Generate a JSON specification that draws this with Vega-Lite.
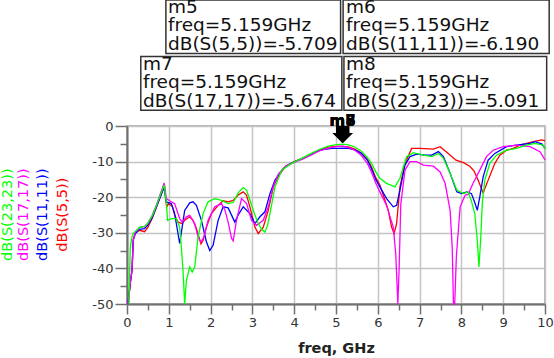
{
  "$schema": "https://vega.github.io/schema/vega-lite/v6.json",
  "width": 418,
  "height": 178,
  "autosize": {"type": "none"},
  "padding": {"left": 127, "top": 126, "right": 9, "bottom": 54},
  "background": "white",
  "config": {
    "font": "DejaVu Sans",
    "view": {"stroke": "#a0a0a0", "strokeWidth": 1.5},
    "axis": {
      "domainColor": "#707070",
      "domainWidth": 2,
      "tickColor": "#707070",
      "tickWidth": 1.5,
      "gridColor": "#c4c4c4",
      "gridWidth": 1.5,
      "labelColor": "#333333",
      "labelFont": "DejaVu Sans",
      "labelFontSize": 13
    }
  },
  "datasets": {
    "curves": [
      {"s":"dB(S(5,5))","f":0.03,"v":-50},{"s":"dB(S(5,5))","f":0.08,"v":-44},{"s":"dB(S(5,5))","f":0.12,"v":-40.5},{"s":"dB(S(5,5))","f":0.15,"v":-32},{"s":"dB(S(5,5))","f":0.2,"v":-30},{"s":"dB(S(5,5))","f":0.3,"v":-29.3},{"s":"dB(S(5,5))","f":0.42,"v":-29.7},{"s":"dB(S(5,5))","f":0.5,"v":-28.5},{"s":"dB(S(5,5))","f":0.6,"v":-26},{"s":"dB(S(5,5))","f":0.7,"v":-23},{"s":"dB(S(5,5))","f":0.8,"v":-19.8},{"s":"dB(S(5,5))","f":0.86,"v":-18},{"s":"dB(S(5,5))","f":0.9,"v":-17.2},{"s":"dB(S(5,5))","f":0.93,"v":-21},{"s":"dB(S(5,5))","f":0.95,"v":-22.7},{"s":"dB(S(5,5))","f":0.99,"v":-21.8},{"s":"dB(S(5,5))","f":1.09,"v":-22.7},{"s":"dB(S(5,5))","f":1.14,"v":-25},{"s":"dB(S(5,5))","f":1.22,"v":-27},{"s":"dB(S(5,5))","f":1.32,"v":-27.4},{"s":"dB(S(5,5))","f":1.38,"v":-26.5},{"s":"dB(S(5,5))","f":1.5,"v":-25.5},{"s":"dB(S(5,5))","f":1.58,"v":-26.5},{"s":"dB(S(5,5))","f":1.66,"v":-28.8},{"s":"dB(S(5,5))","f":1.77,"v":-33.1},{"s":"dB(S(5,5))","f":1.82,"v":-32.1},{"s":"dB(S(5,5))","f":1.9,"v":-28.4},{"s":"dB(S(5,5))","f":2.02,"v":-24.6},{"s":"dB(S(5,5))","f":2.18,"v":-22.3},{"s":"dB(S(5,5))","f":2.3,"v":-21},{"s":"dB(S(5,5))","f":2.42,"v":-21.3},{"s":"dB(S(5,5))","f":2.54,"v":-20.9},{"s":"dB(S(5,5))","f":2.66,"v":-19.4},{"s":"dB(S(5,5))","f":2.78,"v":-18.5},{"s":"dB(S(5,5))","f":2.86,"v":-19.5},{"s":"dB(S(5,5))","f":2.94,"v":-22.7},{"s":"dB(S(5,5))","f":3.06,"v":-28.4},{"s":"dB(S(5,5))","f":3.14,"v":-30.2},{"s":"dB(S(5,5))","f":3.26,"v":-28.4},{"s":"dB(S(5,5))","f":3.38,"v":-23.7},{"s":"dB(S(5,5))","f":3.5,"v":-17.1},{"s":"dB(S(5,5))","f":3.6,"v":-14.5},{"s":"dB(S(5,5))","f":3.7,"v":-12.8},{"s":"dB(S(5,5))","f":3.8,"v":-11.3},{"s":"dB(S(5,5))","f":4.0,"v":-10},{"s":"dB(S(5,5))","f":4.2,"v":-9.1},{"s":"dB(S(5,5))","f":4.4,"v":-7.9},{"s":"dB(S(5,5))","f":4.6,"v":-6.8},{"s":"dB(S(5,5))","f":4.8,"v":-6.0},{"s":"dB(S(5,5))","f":5.0,"v":-5.7},{"s":"dB(S(5,5))","f":5.159,"v":-5.709},{"s":"dB(S(5,5))","f":5.3,"v":-5.9},{"s":"dB(S(5,5))","f":5.45,"v":-6.5},{"s":"dB(S(5,5))","f":5.6,"v":-7.6},{"s":"dB(S(5,5))","f":5.75,"v":-9.3},{"s":"dB(S(5,5))","f":5.85,"v":-11.5},{"s":"dB(S(5,5))","f":5.95,"v":-14.5},{"s":"dB(S(5,5))","f":6.05,"v":-16.6},{"s":"dB(S(5,5))","f":6.17,"v":-20.8},{"s":"dB(S(5,5))","f":6.25,"v":-23.7},{"s":"dB(S(5,5))","f":6.33,"v":-28.4},{"s":"dB(S(5,5))","f":6.39,"v":-30.2},{"s":"dB(S(5,5))","f":6.45,"v":-27.4},{"s":"dB(S(5,5))","f":6.53,"v":-17.1},{"s":"dB(S(5,5))","f":6.65,"v":-10.5},{"s":"dB(S(5,5))","f":6.81,"v":-6.3},{"s":"dB(S(5,5))","f":7.01,"v":-6.3},{"s":"dB(S(5,5))","f":7.33,"v":-6.5},{"s":"dB(S(5,5))","f":7.49,"v":-5.8},{"s":"dB(S(5,5))","f":7.65,"v":-7.4},{"s":"dB(S(5,5))","f":7.87,"v":-9.6},{"s":"dB(S(5,5))","f":8.05,"v":-10.3},{"s":"dB(S(5,5))","f":8.2,"v":-11.3},{"s":"dB(S(5,5))","f":8.3,"v":-12.6},{"s":"dB(S(5,5))","f":8.4,"v":-15.2},{"s":"dB(S(5,5))","f":8.52,"v":-18.8},{"s":"dB(S(5,5))","f":8.64,"v":-15.2},{"s":"dB(S(5,5))","f":8.8,"v":-10.5},{"s":"dB(S(5,5))","f":8.92,"v":-8.2},{"s":"dB(S(5,5))","f":9.08,"v":-6.8},{"s":"dB(S(5,5))","f":9.24,"v":-6.3},{"s":"dB(S(5,5))","f":9.4,"v":-5.4},{"s":"dB(S(5,5))","f":9.56,"v":-4.9},{"s":"dB(S(5,5))","f":9.72,"v":-4.4},{"s":"dB(S(5,5))","f":9.92,"v":-3.9},{"s":"dB(S(5,5))","f":10,"v":-4.2},
      {"s":"dB(S(11,11))","f":0.02,"v":-50},{"s":"dB(S(11,11))","f":0.08,"v":-44},{"s":"dB(S(11,11))","f":0.12,"v":-40.5},{"s":"dB(S(11,11))","f":0.15,"v":-32},{"s":"dB(S(11,11))","f":0.2,"v":-30.2},{"s":"dB(S(11,11))","f":0.3,"v":-29},{"s":"dB(S(11,11))","f":0.42,"v":-28.8},{"s":"dB(S(11,11))","f":0.5,"v":-27.8},{"s":"dB(S(11,11))","f":0.6,"v":-25.8},{"s":"dB(S(11,11))","f":0.7,"v":-22.8},{"s":"dB(S(11,11))","f":0.8,"v":-19.8},{"s":"dB(S(11,11))","f":0.86,"v":-18},{"s":"dB(S(11,11))","f":0.89,"v":-17.5},{"s":"dB(S(11,11))","f":0.94,"v":-21.3},{"s":"dB(S(11,11))","f":1.06,"v":-21.8},{"s":"dB(S(11,11))","f":1.14,"v":-24.6},{"s":"dB(S(11,11))","f":1.22,"v":-30.2},{"s":"dB(S(11,11))","f":1.26,"v":-33},{"s":"dB(S(11,11))","f":1.32,"v":-28.4},{"s":"dB(S(11,11))","f":1.38,"v":-23.7},{"s":"dB(S(11,11))","f":1.5,"v":-21.6},{"s":"dB(S(11,11))","f":1.58,"v":-21.3},{"s":"dB(S(11,11))","f":1.66,"v":-22.3},{"s":"dB(S(11,11))","f":1.78,"v":-26.5},{"s":"dB(S(11,11))","f":1.9,"v":-32.5},{"s":"dB(S(11,11))","f":1.98,"v":-35},{"s":"dB(S(11,11))","f":2.06,"v":-33.5},{"s":"dB(S(11,11))","f":2.18,"v":-26.5},{"s":"dB(S(11,11))","f":2.3,"v":-22.7},{"s":"dB(S(11,11))","f":2.42,"v":-23},{"s":"dB(S(11,11))","f":2.58,"v":-27},{"s":"dB(S(11,11))","f":2.66,"v":-25},{"s":"dB(S(11,11))","f":2.78,"v":-22.7},{"s":"dB(S(11,11))","f":2.94,"v":-24.6},{"s":"dB(S(11,11))","f":3.06,"v":-27.4},{"s":"dB(S(11,11))","f":3.18,"v":-25.5},{"s":"dB(S(11,11))","f":3.3,"v":-24.1},{"s":"dB(S(11,11))","f":3.42,"v":-19},{"s":"dB(S(11,11))","f":3.54,"v":-15.2},{"s":"dB(S(11,11))","f":3.74,"v":-11.9},{"s":"dB(S(11,11))","f":3.9,"v":-10.6},{"s":"dB(S(11,11))","f":4.1,"v":-9.6},{"s":"dB(S(11,11))","f":4.3,"v":-8.6},{"s":"dB(S(11,11))","f":4.5,"v":-7.3},{"s":"dB(S(11,11))","f":4.7,"v":-6.6},{"s":"dB(S(11,11))","f":4.9,"v":-6.3},{"s":"dB(S(11,11))","f":5.05,"v":-6.3},{"s":"dB(S(11,11))","f":5.159,"v":-6.19},{"s":"dB(S(11,11))","f":5.3,"v":-6.3},{"s":"dB(S(11,11))","f":5.45,"v":-6.7},{"s":"dB(S(11,11))","f":5.6,"v":-7.6},{"s":"dB(S(11,11))","f":5.75,"v":-9.6},{"s":"dB(S(11,11))","f":5.85,"v":-12},{"s":"dB(S(11,11))","f":5.95,"v":-15},{"s":"dB(S(11,11))","f":6.05,"v":-17.1},{"s":"dB(S(11,11))","f":6.21,"v":-20.4},{"s":"dB(S(11,11))","f":6.37,"v":-22.7},{"s":"dB(S(11,11))","f":6.45,"v":-22.3},{"s":"dB(S(11,11))","f":6.53,"v":-18},{"s":"dB(S(11,11))","f":6.65,"v":-11},{"s":"dB(S(11,11))","f":6.77,"v":-8.6},{"s":"dB(S(11,11))","f":6.93,"v":-7.9},{"s":"dB(S(11,11))","f":7.13,"v":-8.2},{"s":"dB(S(11,11))","f":7.29,"v":-8.2},{"s":"dB(S(11,11))","f":7.45,"v":-7.2},{"s":"dB(S(11,11))","f":7.57,"v":-8.6},{"s":"dB(S(11,11))","f":7.73,"v":-13.3},{"s":"dB(S(11,11))","f":7.89,"v":-18.5},{"s":"dB(S(11,11))","f":8.0,"v":-19},{"s":"dB(S(11,11))","f":8.13,"v":-18.5},{"s":"dB(S(11,11))","f":8.24,"v":-19},{"s":"dB(S(11,11))","f":8.32,"v":-21.5},{"s":"dB(S(11,11))","f":8.38,"v":-23.7},{"s":"dB(S(11,11))","f":8.44,"v":-19.9},{"s":"dB(S(11,11))","f":8.52,"v":-14.3},{"s":"dB(S(11,11))","f":8.64,"v":-9.6},{"s":"dB(S(11,11))","f":8.8,"v":-7.7},{"s":"dB(S(11,11))","f":9.08,"v":-5.8},{"s":"dB(S(11,11))","f":9.32,"v":-5.4},{"s":"dB(S(11,11))","f":9.64,"v":-4.9},{"s":"dB(S(11,11))","f":9.76,"v":-4.4},{"s":"dB(S(11,11))","f":9.92,"v":-5.0},{"s":"dB(S(11,11))","f":10,"v":-6.3},
      {"s":"dB(S(17,17))","f":0.02,"v":-50},{"s":"dB(S(17,17))","f":0.08,"v":-44},{"s":"dB(S(17,17))","f":0.12,"v":-40.5},{"s":"dB(S(17,17))","f":0.15,"v":-32},{"s":"dB(S(17,17))","f":0.2,"v":-29.8},{"s":"dB(S(17,17))","f":0.3,"v":-28.5},{"s":"dB(S(17,17))","f":0.42,"v":-28.3},{"s":"dB(S(17,17))","f":0.5,"v":-27.3},{"s":"dB(S(17,17))","f":0.6,"v":-25.2},{"s":"dB(S(17,17))","f":0.7,"v":-22.3},{"s":"dB(S(17,17))","f":0.8,"v":-19},{"s":"dB(S(17,17))","f":0.86,"v":-17},{"s":"dB(S(17,17))","f":0.89,"v":-16},{"s":"dB(S(17,17))","f":0.94,"v":-20.4},{"s":"dB(S(17,17))","f":1.02,"v":-21},{"s":"dB(S(17,17))","f":1.14,"v":-21.8},{"s":"dB(S(17,17))","f":1.26,"v":-26},{"s":"dB(S(17,17))","f":1.32,"v":-27},{"s":"dB(S(17,17))","f":1.42,"v":-25.5},{"s":"dB(S(17,17))","f":1.5,"v":-25.1},{"s":"dB(S(17,17))","f":1.62,"v":-27.4},{"s":"dB(S(17,17))","f":1.7,"v":-31.2},{"s":"dB(S(17,17))","f":1.77,"v":-32.6},{"s":"dB(S(17,17))","f":1.84,"v":-31.2},{"s":"dB(S(17,17))","f":1.94,"v":-26.5},{"s":"dB(S(17,17))","f":2.1,"v":-22.7},{"s":"dB(S(17,17))","f":2.26,"v":-21.8},{"s":"dB(S(17,17))","f":2.34,"v":-23.5},{"s":"dB(S(17,17))","f":2.42,"v":-27},{"s":"dB(S(17,17))","f":2.5,"v":-31.5},{"s":"dB(S(17,17))","f":2.54,"v":-32.3},{"s":"dB(S(17,17))","f":2.62,"v":-26.5},{"s":"dB(S(17,17))","f":2.74,"v":-20.4},{"s":"dB(S(17,17))","f":2.86,"v":-21.8},{"s":"dB(S(17,17))","f":2.98,"v":-26.5},{"s":"dB(S(17,17))","f":3.1,"v":-27.9},{"s":"dB(S(17,17))","f":3.26,"v":-26.5},{"s":"dB(S(17,17))","f":3.38,"v":-22.7},{"s":"dB(S(17,17))","f":3.5,"v":-17},{"s":"dB(S(17,17))","f":3.62,"v":-13.5},{"s":"dB(S(17,17))","f":3.8,"v":-11.2},{"s":"dB(S(17,17))","f":4.0,"v":-10.2},{"s":"dB(S(17,17))","f":4.2,"v":-9.3},{"s":"dB(S(17,17))","f":4.4,"v":-8.2},{"s":"dB(S(17,17))","f":4.6,"v":-7},{"s":"dB(S(17,17))","f":4.8,"v":-6.3},{"s":"dB(S(17,17))","f":5.0,"v":-5.8},{"s":"dB(S(17,17))","f":5.159,"v":-5.674},{"s":"dB(S(17,17))","f":5.3,"v":-6},{"s":"dB(S(17,17))","f":5.45,"v":-6.8},{"s":"dB(S(17,17))","f":5.6,"v":-8.2},{"s":"dB(S(17,17))","f":5.75,"v":-10.5},{"s":"dB(S(17,17))","f":5.85,"v":-13},{"s":"dB(S(17,17))","f":5.95,"v":-16},{"s":"dB(S(17,17))","f":6.05,"v":-18.5},{"s":"dB(S(17,17))","f":6.21,"v":-22.3},{"s":"dB(S(17,17))","f":6.37,"v":-28.4},{"s":"dB(S(17,17))","f":6.43,"v":-36},{"s":"dB(S(17,17))","f":6.48,"v":-50},{"s":"dB(S(17,17))","f":6.51,"v":-40},{"s":"dB(S(17,17))","f":6.55,"v":-22},{"s":"dB(S(17,17))","f":6.65,"v":-12.4},{"s":"dB(S(17,17))","f":6.77,"v":-10},{"s":"dB(S(17,17))","f":6.93,"v":-10},{"s":"dB(S(17,17))","f":7.09,"v":-11},{"s":"dB(S(17,17))","f":7.33,"v":-11.3},{"s":"dB(S(17,17))","f":7.49,"v":-12.9},{"s":"dB(S(17,17))","f":7.61,"v":-16.1},{"s":"dB(S(17,17))","f":7.73,"v":-23.7},{"s":"dB(S(17,17))","f":7.78,"v":-34},{"s":"dB(S(17,17))","f":7.81,"v":-50},{"s":"dB(S(17,17))","f":7.84,"v":-50},{"s":"dB(S(17,17))","f":7.88,"v":-36.5},{"s":"dB(S(17,17))","f":7.97,"v":-22.7},{"s":"dB(S(17,17))","f":8.09,"v":-19.4},{"s":"dB(S(17,17))","f":8.16,"v":-19.2},{"s":"dB(S(17,17))","f":8.28,"v":-16.1},{"s":"dB(S(17,17))","f":8.44,"v":-12.4},{"s":"dB(S(17,17))","f":8.6,"v":-8.6},{"s":"dB(S(17,17))","f":8.76,"v":-6.8},{"s":"dB(S(17,17))","f":9.0,"v":-5.8},{"s":"dB(S(17,17))","f":9.32,"v":-5.4},{"s":"dB(S(17,17))","f":9.64,"v":-5.8},{"s":"dB(S(17,17))","f":9.88,"v":-7.2},{"s":"dB(S(17,17))","f":10,"v":-9.5},
      {"s":"dB(S(23,23))","f":0.05,"v":-50},{"s":"dB(S(23,23))","f":0.06,"v":-42},{"s":"dB(S(23,23))","f":0.08,"v":-34},{"s":"dB(S(23,23))","f":0.12,"v":-31},{"s":"dB(S(23,23))","f":0.16,"v":-30},{"s":"dB(S(23,23))","f":0.2,"v":-29.6},{"s":"dB(S(23,23))","f":0.3,"v":-28.5},{"s":"dB(S(23,23))","f":0.42,"v":-28.2},{"s":"dB(S(23,23))","f":0.5,"v":-27.3},{"s":"dB(S(23,23))","f":0.6,"v":-25.3},{"s":"dB(S(23,23))","f":0.7,"v":-22.5},{"s":"dB(S(23,23))","f":0.8,"v":-19.3},{"s":"dB(S(23,23))","f":0.86,"v":-17.5},{"s":"dB(S(23,23))","f":0.89,"v":-16.6},{"s":"dB(S(23,23))","f":0.94,"v":-21.3},{"s":"dB(S(23,23))","f":0.97,"v":-26.5},{"s":"dB(S(23,23))","f":1.06,"v":-26},{"s":"dB(S(23,23))","f":1.18,"v":-26},{"s":"dB(S(23,23))","f":1.26,"v":-28.4},{"s":"dB(S(23,23))","f":1.3,"v":-34},{"s":"dB(S(23,23))","f":1.34,"v":-40.6},{"s":"dB(S(23,23))","f":1.38,"v":-50},{"s":"dB(S(23,23))","f":1.42,"v":-43.4},{"s":"dB(S(23,23))","f":1.5,"v":-39.6},{"s":"dB(S(23,23))","f":1.56,"v":-41},{"s":"dB(S(23,23))","f":1.62,"v":-39.6},{"s":"dB(S(23,23))","f":1.7,"v":-31.2},{"s":"dB(S(23,23))","f":1.82,"v":-24.6},{"s":"dB(S(23,23))","f":1.94,"v":-21.3},{"s":"dB(S(23,23))","f":2.1,"v":-20.4},{"s":"dB(S(23,23))","f":2.26,"v":-20.9},{"s":"dB(S(23,23))","f":2.42,"v":-21.8},{"s":"dB(S(23,23))","f":2.54,"v":-21.5},{"s":"dB(S(23,23))","f":2.66,"v":-18.8},{"s":"dB(S(23,23))","f":2.78,"v":-17.3},{"s":"dB(S(23,23))","f":2.86,"v":-18},{"s":"dB(S(23,23))","f":2.94,"v":-20.8},{"s":"dB(S(23,23))","f":3.06,"v":-25},{"s":"dB(S(23,23))","f":3.14,"v":-27.4},{"s":"dB(S(23,23))","f":3.22,"v":-29},{"s":"dB(S(23,23))","f":3.3,"v":-29.8},{"s":"dB(S(23,23))","f":3.36,"v":-28},{"s":"dB(S(23,23))","f":3.42,"v":-24.6},{"s":"dB(S(23,23))","f":3.54,"v":-17.1},{"s":"dB(S(23,23))","f":3.7,"v":-12.4},{"s":"dB(S(23,23))","f":3.94,"v":-10.5},{"s":"dB(S(23,23))","f":4.18,"v":-9.1},{"s":"dB(S(23,23))","f":4.41,"v":-7.7},{"s":"dB(S(23,23))","f":4.6,"v":-6.6},{"s":"dB(S(23,23))","f":4.8,"v":-5.7},{"s":"dB(S(23,23))","f":4.97,"v":-5.3},{"s":"dB(S(23,23))","f":5.159,"v":-5.091},{"s":"dB(S(23,23))","f":5.3,"v":-5.3},{"s":"dB(S(23,23))","f":5.45,"v":-5.9},{"s":"dB(S(23,23))","f":5.6,"v":-7},{"s":"dB(S(23,23))","f":5.75,"v":-8.8},{"s":"dB(S(23,23))","f":5.85,"v":-10.5},{"s":"dB(S(23,23))","f":5.95,"v":-12.8},{"s":"dB(S(23,23))","f":6.05,"v":-14.7},{"s":"dB(S(23,23))","f":6.21,"v":-16.1},{"s":"dB(S(23,23))","f":6.41,"v":-17.1},{"s":"dB(S(23,23))","f":6.53,"v":-14.7},{"s":"dB(S(23,23))","f":6.61,"v":-11.5},{"s":"dB(S(23,23))","f":6.69,"v":-8.6},{"s":"dB(S(23,23))","f":6.85,"v":-7.5},{"s":"dB(S(23,23))","f":7.09,"v":-8.2},{"s":"dB(S(23,23))","f":7.29,"v":-8.6},{"s":"dB(S(23,23))","f":7.45,"v":-7.7},{"s":"dB(S(23,23))","f":7.57,"v":-9.1},{"s":"dB(S(23,23))","f":7.73,"v":-13.3},{"s":"dB(S(23,23))","f":7.89,"v":-18},{"s":"dB(S(23,23))","f":8.05,"v":-19},{"s":"dB(S(23,23))","f":8.16,"v":-18.5},{"s":"dB(S(23,23))","f":8.24,"v":-21.1},{"s":"dB(S(23,23))","f":8.32,"v":-24.6},{"s":"dB(S(23,23))","f":8.38,"v":-32.1},{"s":"dB(S(23,23))","f":8.42,"v":-39.6},{"s":"dB(S(23,23))","f":8.46,"v":-32},{"s":"dB(S(23,23))","f":8.5,"v":-21.8},{"s":"dB(S(23,23))","f":8.56,"v":-15.2},{"s":"dB(S(23,23))","f":8.68,"v":-10.5},{"s":"dB(S(23,23))","f":8.84,"v":-8.2},{"s":"dB(S(23,23))","f":9.08,"v":-6.8},{"s":"dB(S(23,23))","f":9.32,"v":-6.3},{"s":"dB(S(23,23))","f":9.56,"v":-5.4},{"s":"dB(S(23,23))","f":9.76,"v":-4.9},{"s":"dB(S(23,23))","f":9.96,"v":-5.4},{"s":"dB(S(23,23))","f":10,"v":-6.6}
    ],
    "boxes": [
      {"b":"m5","x1":0.93,"x2":5.11,"y1":35.4,"y2":20.4},
      {"b":"m6","x1":5.17,"x2":10.1,"y1":35.4,"y2":20.4},
      {"b":"m7","x1":0.33,"x2":5.14,"y1":19.5,"y2":4.4},
      {"b":"m8","x1":5.19,"x2":10.04,"y1":19.5,"y2":4.4}
    ],
    "boxtext": [
      {"t":"m5","x":0.98,"y":31.7},{"t":"freq=5.159GHz","x":0.98,"y":26.6},{"t":"dB(S(5,5))=-5.709","x":0.98,"y":21.3},
      {"t":"m6","x":5.24,"y":31.7},{"t":"freq=5.159GHz","x":5.24,"y":26.6},{"t":"dB(S(11,11))=-6.190","x":5.24,"y":21.3},
      {"t":"m7","x":0.38,"y":15.8},{"t":"freq=5.159GHz","x":0.38,"y":10.7},{"t":"dB(S(17,17))=-5.674","x":0.38,"y":5.35},
      {"t":"m8","x":5.24,"y":15.8},{"t":"freq=5.159GHz","x":5.24,"y":10.7},{"t":"dB(S(23,23))=-5.091","x":5.24,"y":5.35}
    ],
    "ytitle": [
      {"s":"dB(S(23,23))","x":-2.856,"y":-24.9},
      {"s":"dB(S(17,17))","x":-2.473,"y":-24.9},
      {"s":"dB(S(11,11))","x":-2.02,"y":-24.9},
      {"s":"dB(S(5,5))","x":-1.54,"y":-24.9}
    ],
    "markers": [
      {"m":"m5","f":5.159,"y":-2.39,"ty":0},
      {"m":"m6","f":5.159,"y":-2.39,"ty":0},
      {"m":"m7","f":5.159,"y":-2.39,"ty":0},
      {"m":"m8","f":5.159,"y":-2.39,"ty":0}
    ]
  },
  "layer": [
    {
      "data": {"name": "curves"},
      "mark": {"type": "line", "strokeWidth": 1.3, "interpolate": "linear"},
      "encoding": {
        "x": {
          "field": "f", "type": "quantitative",
          "scale": {"domain": [0, 10], "nice": false, "zero": false},
          "axis": {
            "title": "freq, GHz",
            "titleFont": "DejaVu Sans",
            "titleFontSize": 14.5,
            "titleFontWeight": "bold",
            "titleColor": "#222222",
            "titlePadding": 12,
            "tickCount": 100,
            "values": [0,0.5,1,1.5,2,2.5,3,3.5,4,4.5,5,5.5,6,6.5,7,7.5,8,8.5,9,9.5,10],
            "labelExpr": "datum.value % 1 === 0 ? '' + datum.value : ''",
            "labelPadding": 2,
            "labelFlush": false,
            "labelOverlap": false,
            "labelFontSize": {"condition": {"test": "datum.value % 1 === 0", "value": 13}, "value": 0},
            "tickSize": {"condition": {"test": "datum.value % 1 === 0", "value": 10}, "value": 6},
            "gridOpacity": {"condition": {"test": "datum.value % 1 === 0", "value": 1}, "value": 0}
          }
        },
        "y": {
          "field": "v", "type": "quantitative",
          "scale": {"domain": [-50, 0], "nice": false, "zero": false},
          "axis": {
            "title": "",
            "tickCount": 100,
            "values": [0,-5,-10,-15,-20,-25,-30,-35,-40,-45,-50],
            "labelExpr": "datum.value % 10 === 0 ? '' + datum.value : ''",
            "labelPadding": 2,
            "labelOverlap": false,
            "labelFlush": false,
            "labelFontSize": {"condition": {"test": "datum.value % 10 === 0", "value": 13}, "value": 0},
            "tickSize": {"condition": {"test": "datum.value % 10 === 0", "value": 12}, "value": 7},
            "gridOpacity": {"condition": {"test": "datum.value % 10 === 0", "value": 1}, "value": 0}
          }
        },
        "color": {
          "field": "s", "type": "nominal",
          "scale": {"domain": ["dB(S(5,5))", "dB(S(11,11))", "dB(S(17,17))", "dB(S(23,23))"], "range": ["#ff0000", "#0000ff", "#ff00ff", "#00ff00"]},
          "legend": null
        }
      }
    },
    {
      "data": {"name": "ytitle"},
      "mark": {"type": "text", "angle": 270, "align": "center", "baseline": "middle", "font": "DejaVu Sans", "fontSize": 14.5},
      "encoding": {
        "x": {"field": "x", "type": "quantitative"},
        "y": {"field": "y", "type": "quantitative"},
        "text": {"field": "s"},
        "color": {"field": "s", "type": "nominal", "legend": null}
      }
    },
    {
      "data": {"name": "boxes"},
      "mark": {"type": "rect", "fill": "white", "stroke": "#333333", "strokeWidth": 1.5},
      "encoding": {
        "x": {"field": "x1", "type": "quantitative"},
        "x2": {"field": "x2"},
        "y": {"field": "y1", "type": "quantitative"},
        "y2": {"field": "y2"}
      }
    },
    {
      "data": {"name": "boxtext"},
      "mark": {"type": "text", "align": "left", "baseline": "alphabetic", "font": "DejaVu Sans", "fontSize": 18.5, "color": "#111111"},
      "encoding": {
        "x": {"field": "x", "type": "quantitative"},
        "y": {"field": "y", "type": "quantitative"},
        "text": {"field": "t"}
      }
    },
    {
      "data": {"name": "markers"},
      "mark": {"type": "point", "filled": true, "color": "black", "opacity": 1, "size": 400, "shape": "M-0.65,-0.85L0.65,-0.85L0.65,-0.15L1,-0.15L0,0.85L-1,-0.15L-0.65,-0.15Z"},
      "encoding": {
        "x": {"field": "f", "type": "quantitative"},
        "y": {"field": "y", "type": "quantitative"}
      }
    },
    {
      "data": {"name": "markers"},
      "mark": {"type": "text", "align": "center", "baseline": "alphabetic", "font": "DejaVu Sans", "fontSize": 15, "fontWeight": "bold", "color": "black"},
      "encoding": {
        "x": {"field": "f", "type": "quantitative"},
        "y": {"field": "ty", "type": "quantitative"},
        "text": {"field": "m"}
      }
    }
  ]
}
